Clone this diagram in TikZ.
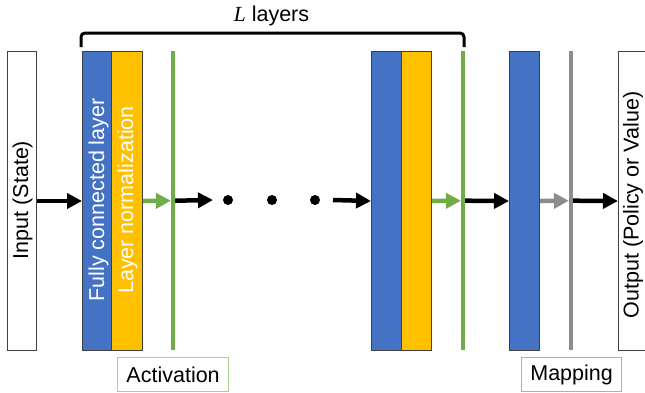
\documentclass[tikz,border=0pt]{standalone}
\usepackage{fontspec}
\setmainfont{Liberation Sans}
\newfontfamily\serifit{Liberation Serif}
\usetikzlibrary{arrows.meta}
\definecolor{fcblue}{HTML}{4472C4}
\definecolor{lnyellow}{HTML}{FFC000}
\definecolor{actgreen}{HTML}{70AD47}
\definecolor{actlight}{HTML}{A9D18E}
\definecolor{mapgray}{HTML}{8C8C8C}
\definecolor{edge}{HTML}{404040}
\begin{document}
\begin{tikzpicture}[x=1pt,y=1pt,
  box/.style={draw=edge, line width=1pt, inner sep=0pt, minimum height=299pt, anchor=north west},
  vbar/.style={inner sep=0pt, minimum width=3.8pt, minimum height=299pt, anchor=north},
  arr/.style={line width=4.5pt, -{Triangle[length=15pt,width=15pt]}},
  vtext/.style={rotate=90, font=\fontsize{21.5}{25}\selectfont, inner sep=0pt},
  tag/.style={line width=1.2pt, inner sep=0pt, minimum height=34pt, font=\fontsize{21.5}{25}\selectfont, anchor=north west},
  dot/.style={circle, fill=black, inner sep=0pt, minimum size=10pt}]
\useasboundingbox (0,0) rectangle (645,-392);
% boxes
\node[box, fill=white, minimum width=29pt] (inp) at (7,-51) {};
\node[box, fill=fcblue, minimum width=29pt] (fc1) at (82,-51) {};
\node[box, fill=lnyellow, minimum width=31pt] (ln1) at (111,-51) {};
\node[vbar, fill=actgreen] (act1) at (173,-51) {};
\node[box, fill=fcblue, minimum width=30pt] (fc2) at (371,-51) {};
\node[box, fill=lnyellow, minimum width=30pt] (ln2) at (401,-51) {};
\node[vbar, fill=actgreen] (act2) at (463,-51) {};
\node[box, fill=fcblue, minimum width=30pt] (fc3) at (509,-51) {};
\node[vbar, fill=mapgray] (map) at (571,-51) {};
\node[box, fill=white, minimum width=30pt] (out) at (618,-51) {};
% rotated texts
\node[vtext] (tinp) at (22.5,-200) {Input (State)};
\node[vtext, text=white] (tfc) at (98.5,-200) {Fully connected layer};
\node[vtext, text=white] (tln) at (127.5,-200) {Layer normalization};
\node[vtext] (tout) at (633,-205) {Output (Policy or Value)};
% dots
\node[dot] (d1) at (228,-200) {};
\node[dot] (d2) at (272,-200) {};
\node[dot] (d3) at (315,-200) {};
\coordinate (a1end) at (213,-200);
\coordinate (a2start) at (333,-200);
% arrows
\draw[arr] (inp.east) -- (fc1.west);
\draw[arr, actgreen] (ln1.east) -- (act1.west);
\draw[arr] (act1.east) -- (a1end);
\draw[arr] (a2start) -- (fc2.west);
\draw[arr, actgreen] (ln2.east) -- (act2.west);
\draw[arr] (act2.east) -- (fc3.west);
\draw[arr, mapgray] (fc3.east) -- (map.west);
\draw[arr] (map.east) -- (out.west);
% bracket
\coordinate (bl) at (81,-47);
\coordinate (br) at (464,-47);
\draw[line width=3pt, rounded corners=4pt] (bl) -- (81,-33) -- (464,-33) -- (br);
\node[font=\fontsize{21.5}{25}\selectfont] (ltext) at (271.5,-16) {{\serifit\itshape L} layers};
% tags
\node[tag, draw=actlight, minimum width=111pt] (tact) at (117,-357) {Activation};
\node[tag, draw=mapgray!70, minimum width=100pt] (tmap) at (521,-357) {Mapping};
\end{tikzpicture}
\end{document}
